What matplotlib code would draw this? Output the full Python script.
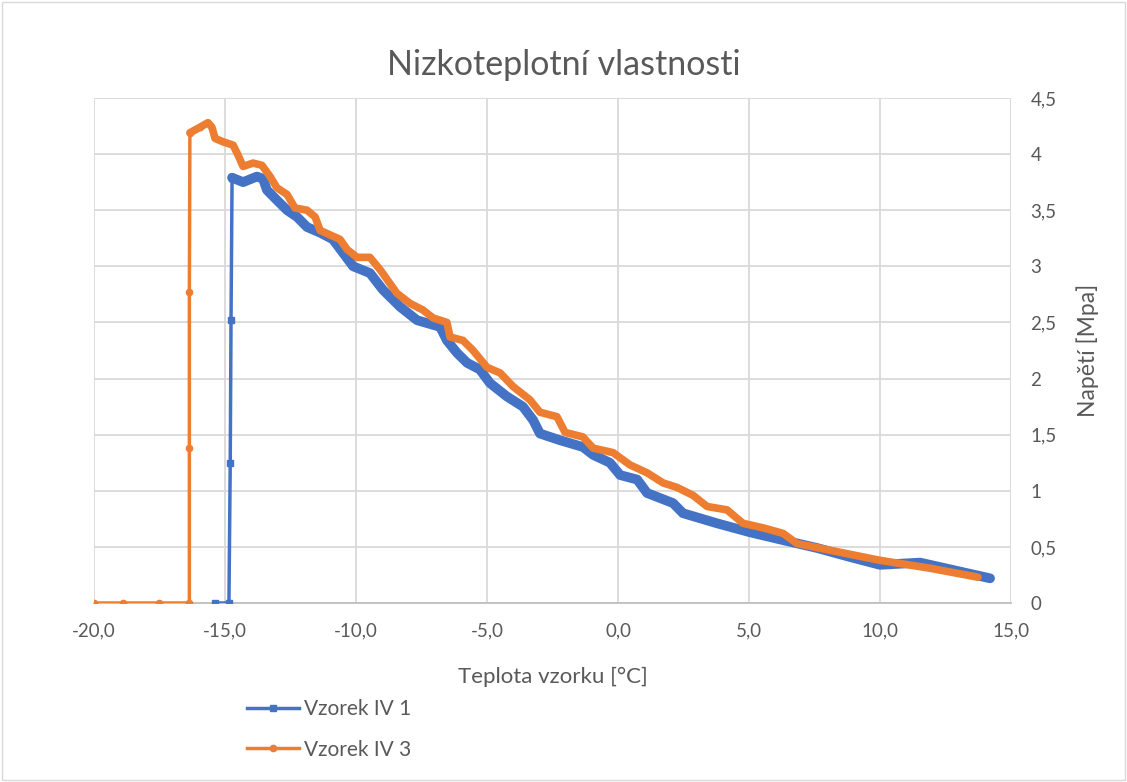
import matplotlib
matplotlib.use("Agg")
from matplotlib import pyplot as plt
from matplotlib.ticker import FuncFormatter, MultipleLocator

plt.rcParams['font.family'] = ['Lato', 'DejaVu Sans']

# Vzorek IV 1 (blue) - temperature [°C], stress [MPa]
t1 = [-15.4, -14.85, -14.8, -14.77, -14.73, -14.73,
      -14.31, -13.78, -13.55, -13.40, -13.02, -12.63, -12.25, -11.87,
      -11.37, -10.88, -10.11, -9.47, -8.97, -8.32, -7.67, -6.79, -6.53,
      -6.15, -5.76, -5.27, -4.89, -4.24, -3.63, -3.24, -2.98,
      -2.21, -1.34, -0.95, -0.31, 0.08, 0.73, 1.11, 2.10, 2.48, 3.78,
      5.04, 6.30, 7.60, 8.85, 10.0, 11.53, 14.2]
s1 = [0.0, 0.0, 1.25, 2.52, 3.79, 3.79,
      3.75, 3.80, 3.78, 3.68, 3.59, 3.50, 3.44, 3.35,
      3.30, 3.24, 3.00, 2.94, 2.79, 2.64, 2.52, 2.46, 2.34,
      2.23, 2.14, 2.08, 1.96, 1.84, 1.75, 1.63, 1.51,
      1.45, 1.39, 1.32, 1.25, 1.14, 1.10, 0.98, 0.89, 0.80, 0.71,
      0.63, 0.56, 0.49, 0.41, 0.34, 0.36, 0.22]

# Vzorek IV 3 (orange)
t3 = [-20.0, -18.9, -17.5, -16.36, -16.36, -16.36, -16.34,
      -15.95, -15.65, -15.50, -15.38, -15.08, -14.69, -14.50, -14.31,
      -13.93, -13.59, -13.28, -13.02, -12.63, -12.33, -11.87, -11.56,
      -11.37, -10.99, -10.61, -10.34, -9.96, -9.47, -9.08, -8.44, -7.94,
      -7.44, -7.06, -6.53, -6.41, -5.92, -5.53, -5.0, -4.50, -4.01,
      -3.36, -2.98, -2.33, -2.02, -1.34, -0.95, -0.19, 0.46, 1.11, 1.72,
      2.25, 2.86, 3.40, 4.16, 4.77, 5.53, 6.30, 6.83, 8.09, 10.0, 11.91, 13.74]
s3 = [0.0, 0.0, 0.0, 0.0, 1.38, 2.77, 4.19,
      4.24, 4.28, 4.24, 4.14, 4.11, 4.08, 3.99, 3.89,
      3.92, 3.90, 3.80, 3.70, 3.64, 3.52, 3.50, 3.44,
      3.32, 3.28, 3.24, 3.15, 3.08, 3.08, 2.97, 2.76, 2.67,
      2.61, 2.54, 2.50, 2.37, 2.34, 2.25, 2.10, 2.05, 1.93,
      1.81, 1.70, 1.66, 1.52, 1.48, 1.38, 1.34, 1.23, 1.16, 1.07,
      1.03, 0.96, 0.86, 0.83, 0.71, 0.67, 0.62, 0.53, 0.47, 0.38, 0.31, 0.23]

blue = '#4472C4'
orange = '#ED7D31'
grid_c = '#D9D9D9'
text_c = '#595959'

fig = plt.figure(figsize=(11.27, 7.82), dpi=100)
ax = fig.add_axes([0.0834, 0.2289, 0.8137, 0.6458])

# thick body of the dense measured curves
ax.plot(t1[4:], s1[4:], color=blue, lw=7, solid_capstyle='round',
        solid_joinstyle='round', zorder=3)
ax.plot(t3[6:], s3[6:], color=orange, lw=5.5, solid_capstyle='round',
        solid_joinstyle='round', zorder=4)

# series with markers (legend entries)
ax.plot(t1[:6], s1[:6], color=blue, lw=2.5, marker='s', ms=5,
        label='Vzorek IV 1', zorder=3)
ax.plot(t3[:8], s3[:8], color=orange, lw=2.5, marker='o', ms=4.5,
        label='Vzorek IV 3', zorder=4)

ax.set_xlim(-20, 15)
ax.set_ylim(0, 4.5)
ax.xaxis.set_major_locator(MultipleLocator(5))
ax.yaxis.set_major_locator(MultipleLocator(0.5))
ax.xaxis.set_major_formatter(FuncFormatter(lambda v, p: f"{v:.1f}".replace('.', ',')))
ax.yaxis.set_major_formatter(FuncFormatter(lambda v, p: f"{v:g}".replace('.', ',')))
ax.yaxis.tick_right()
ax.yaxis.set_label_position('right')

ax.grid(True, color=grid_c, lw=1.3)
ax.set_axisbelow(True)
for side in ['left', 'right', 'top']:
    ax.spines[side].set_visible(False)
ax.spines['bottom'].set_color('#BFBFBF')
ax.spines['bottom'].set_linewidth(1.3)
ax.tick_params(length=0, labelsize=13.5, colors=text_c, pad=14)
ax.tick_params(axis='y', pad=14)

ax.set_xlabel('Teplota vzorku [°C]', fontsize=16, color=text_c, labelpad=20)
ax.set_ylabel('Napětí [Mpa]', fontsize=16.5, color=text_c, labelpad=14)
fig.text(0.5, 0.917, 'Nizkoteplotní vlastnosti', ha='center', va='center',
         fontsize=24.5, color=text_c)

fig.legend(loc='upper left', bbox_to_anchor=(0.212, 0.117), frameon=False,
           fontsize=15, labelcolor=text_c, handlelength=2.5, handletextpad=0.2,
           labelspacing=1.0, borderaxespad=0)

fig.patches.append(plt.Rectangle((0.002, 0.002), 0.996, 0.996, fill=False,
                                 edgecolor='#D9D9D9', lw=1,
                                 transform=fig.transFigure, figure=fig))

fig.savefig('out.png', dpi=100)
